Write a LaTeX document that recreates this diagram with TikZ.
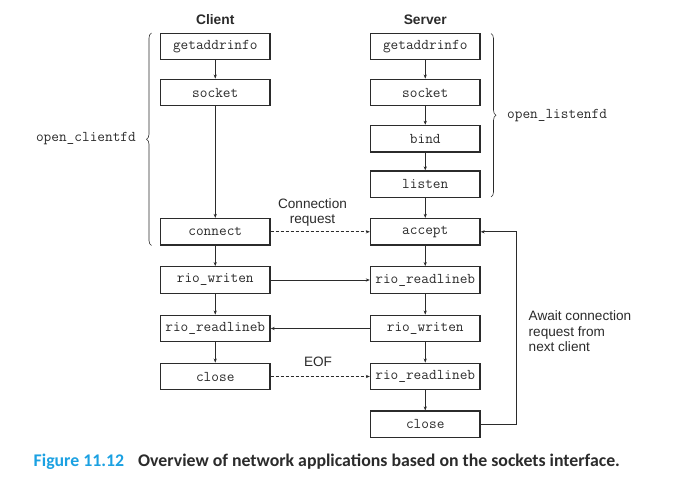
\documentclass[tikz,border=0pt]{standalone}
\usepackage{fontspec}
\setmainfont{Liberation Sans}
\newfontfamily\capfont{Carlito}
\usetikzlibrary{arrows.meta,decorations.pathreplacing,calc}
\definecolor{ink}{HTML}{2B2B2B}
\definecolor{capblue}{HTML}{1BA1E2}
\begin{document}
\begin{tikzpicture}[x=1pt,y=-1pt,
  call/.style={draw=ink,line width=1.4pt,minimum width=109.5pt,minimum height=26.5pt,inner sep=0pt,
    font=\fontsize{14.9}{16}\ttfamily,text=ink},
  flow/.style={draw=ink,line width=0.7pt,-{Stealth[length=4pt,width=3.2pt]}},
  dflow/.style={flow,dash pattern=on 3pt off 2pt},
  lbl/.style={font=\fontsize{13.6}{15.5}\selectfont,text=ink,inner sep=0pt,align=left},
  head/.style={font=\fontsize{13.8}{15}\selectfont\bfseries,text=ink,inner sep=0pt},
  brc/.style={draw=ink,line width=0.6pt,decorate,decoration={brace,amplitude=5pt}},
  mono/.style={font=\fontsize{14.9}{16}\ttfamily,text=ink,inner sep=0pt}]
\useasboundingbox (0,0) rectangle (674,490);
\fill[white] (0,0) rectangle (674,490);

\node[head] (hc) at (215.25,20) {Client};
\node[head] (hs) at (425.25,20) {Server};

% client column
\node[call] (cg) at (215.25,46.5) {getaddrinfo};
\node[call] (cs) at (215.25,92.5) {socket};
\node[call] (cc) at (215.25,231.8) {connect};
\node[call] (cw) at (215.25,280) {rio\_writen};
\node[call] (cr) at (215.25,328.5) {rio\_readlineb};
\node[call] (cx) at (215.25,376.5) {close};

% server column
\node[call] (sg) at (425.25,46.5) {getaddrinfo};
\node[call] (ss) at (425.25,92.5) {socket};
\node[call] (sb) at (425.25,138.7) {bind};
\node[call] (sl) at (425.25,184.3) {listen};
\node[call] (sa) at (425.25,231.8) {accept};
\node[call] (sr) at (425.25,280) {rio\_readlineb};
\node[call] (sw) at (425.25,328.5) {rio\_writen};
\node[call] (sr2) at (425.25,376.5) {rio\_readlineb};
\node[call] (sx) at (425.25,424.4) {close};

% vertical flows
\draw[flow] (cg) -- (cs);
\draw[flow] (cs) -- (cc);
\draw[flow] (cc) -- (cw);
\draw[flow] (cw) -- (cr);
\draw[flow] (cr) -- (cx);
\draw[flow] (sg) -- (ss);
\draw[flow] (ss) -- (sb);
\draw[flow] (sb) -- (sl);
\draw[flow] (sl) -- (sa);
\draw[flow] (sa) -- (sr);
\draw[flow] (sr) -- (sw);
\draw[flow] (sw) -- (sr2);
\draw[flow] (sr2) -- (sx);

% horizontal flows
\draw[dflow] (cc) -- (sa);
\draw[flow] (cw) -- (sr);
\draw[flow] (sw) -- (cr);
\draw[dflow] (cx) -- (sr2);

% loop back
\coordinate (lb) at (516,424.4);
\coordinate (lt) at (516,231.8);
\draw[flow] (sx.east) -- (lb) -- (lt) -- (sa.east);

% labels
\node[lbl,align=center] (creq) at (312.5,212.5) {Connection\\request};
\node[lbl] (eof) at (318,362) {EOF};
\node[lbl,anchor=west] (await) at (528.5,331.5) {Await connection\\request from\\next client};

% braces
\coordinate (lbt) at (151.5,33);
\coordinate (lbb) at (151.5,245.5);
\draw[brc] (lbb) -- (lbt);
\node[mono,anchor=east] (ocf) at (136,139) {open\_clientfd};
\coordinate (rbt) at (491,33.5);
\coordinate (rbb) at (491,197);
\draw[brc] (rbt) -- (rbb);
\node[mono,anchor=west] (olf) at (507,116) {open\_listenfd};

% caption
\node[anchor=west,inner sep=0pt,font=\capfont\fontsize{17.8}{20}\selectfont\bfseries] (cap) at (33.5,462)
  {\textcolor{capblue}{Figure 11.12}\hspace{14pt}\textcolor{ink}{Overview of network applications based on the sockets interface.}};
\end{tikzpicture}
\end{document}
